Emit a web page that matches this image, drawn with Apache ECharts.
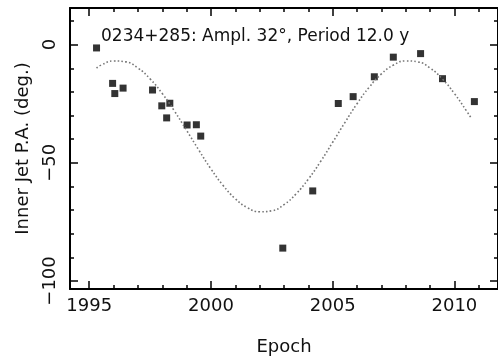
<!DOCTYPE html>
<html>
<head>
<meta charset="utf-8">
<script src="https://cdn.jsdelivr.net/npm/echarts@6/dist/echarts.min.js"></script>
<style>html,body{margin:0;padding:0;background:#fff}#c{width:498px;height:361px}</style>
</head>
<body>
<div id="c"></div>
<script>
// Observed inner jet position angles
const epochs = [1995.30, 1995.96, 1996.05, 1996.39, 1997.60, 1997.98, 1998.18, 1998.31, 1999.02, 1999.40, 1999.58, 2002.95, 2004.18, 2005.23, 2005.84, 2006.71, 2007.49, 2008.61, 2009.51, 2010.82];
const paValues = [-1.4, -16.4, -20.7, -18.4, -19.2, -25.9, -31.0, -24.8, -34.0, -33.9, -38.7, -86.1, -61.9, -24.9, -22.0, -13.6, -5.3, -3.8, -14.4, -24.1];
// Model curve (dotted)
const curveEpochs = [1995.3, 1995.5, 1996.0, 1996.5, 1997.0, 1997.5, 1998.0, 1998.5, 1999.0, 1999.5, 2000.0, 2000.5, 2001.0, 2001.5, 2002.0, 2002.5, 2003.0, 2003.5, 2004.0, 2004.5, 2005.0, 2005.5, 2006.0, 2006.5, 2007.0, 2007.5, 2008.0, 2008.5, 2009.0, 2009.5, 2010.0, 2010.5, 2010.67];
const curveValues = [-9.9, -8.6, -6.9, -7.3, -9.9, -14.5, -20.7, -28.1, -36.3, -44.6, -52.6, -59.6, -65.2, -69.0, -70.7, -70.3, -67.7, -63.1, -56.9, -49.5, -41.3, -33.0, -25.0, -18.0, -12.4, -8.6, -6.9, -7.3, -9.9, -14.5, -20.7, -28.1, -30.8];
// Ticks
const xMajorTicks = [1995, 2000, 2005, 2010];
const xMinorTicks = [1995,1996,1997,1998,1999,2000,2001,2002,2003,2004,2005,2006,2007,2008,2009,2010,2011];
const yMajorTicks = [-100, -50, 0];
const yMinorTicks = [-100,-90,-80,-70,-60,-50,-40,-30,-20,-10,0,10];
const titleText = '0234+285: Ampl. 32°, Period 12.0 y';
const xName = 'Epoch';
const yName = 'Inner Jet P.A. (deg.)';

const X_MIN = 1994.21, X_MAX = 2011.79, Y_MIN = -103.4, Y_MAX = 15.5;
const FONT = 'DejaVu Sans';
const black = '#000';

function xAx(pos, ticks, len, showLine, labels) {
  return {
    type: 'value', position: pos, min: X_MIN, max: X_MAX,
    axisLine: { show: showLine, onZero: false, lineStyle: { color: black, width: 2 } },
    axisTick: { show: true, inside: true, length: len, customValues: ticks, lineStyle: { color: black, width: 1.5 } },
    axisLabel: labels ? { show: true, customValues: xMajorTicks, margin: 8, color: '#111', fontFamily: FONT, fontSize: 18,
      formatter: v => String(v) } : { show: false },
    splitLine: { show: false },
    name: (labels ? xName : ''), nameLocation: 'middle', nameGap: 49,
    nameTextStyle: { color: '#111', fontFamily: FONT, fontSize: 18 }
  };
}
function yAx(pos, ticks, len, showLine, labels) {
  return {
    type: 'value', position: pos, min: Y_MIN, max: Y_MAX,
    axisLine: { show: showLine, onZero: false, lineStyle: { color: black, width: 2 } },
    axisTick: { show: true, inside: true, length: len, customValues: ticks, lineStyle: { color: black, width: 1.5 } },
    axisLabel: labels ? { show: true, customValues: yMajorTicks, rotate: 90, margin: 11, color: '#111', fontFamily: FONT, fontSize: 18,
      formatter: v => (v < 0 ? '\u2212' + Math.abs(v) : String(v)) } : { show: false },
    splitLine: { show: false },
    name: (labels ? yName : ''), nameLocation: 'middle', nameGap: 38,
    nameTextStyle: { color: '#111', fontFamily: FONT, fontSize: 18 }
  };
}

const chart = echarts.init(document.getElementById('c'), null, { renderer: 'canvas' });
chart.setOption({
  animation: false,
  backgroundColor: '#fff',
  title: { text: titleText, left: 96, top: 23, textStyle: { color: '#111', fontFamily: FONT, fontSize: 17, fontWeight: 'normal' } },
  grid: { left: 70, top: 8, right: -2, bottom: 70, containLabel: false },
  xAxis: [
    xAx('bottom', xMajorTicks, 8, true, true),
    xAx('bottom', xMinorTicks, 4, false, false),
    xAx('top', xMajorTicks, 8, true, false),
    xAx('top', xMinorTicks, 4, false, false)
  ],
  yAxis: [
    yAx('left', yMajorTicks, 8, true, true),
    yAx('left', yMinorTicks, 4, false, false),
    yAx('right', yMajorTicks, 8, true, false),
    yAx('right', yMinorTicks, 4, false, false)
  ],
  series: [
    {
      type: 'line', xAxisIndex: 0, yAxisIndex: 0, smooth: true, showSymbol: false,
      data: curveEpochs.map((t, i) => [t, curveValues[i]]),
      lineStyle: { color: '#777', width: 1.6, type: [1.6, 2.2] }
    },
    {
      type: 'scatter', xAxisIndex: 0, yAxisIndex: 0, symbol: 'rect', symbolSize: 7,
      data: epochs.map((t, i) => [t, paValues[i]]),
      itemStyle: { color: black }
    }
  ]
});
</script>
</body>
</html>
